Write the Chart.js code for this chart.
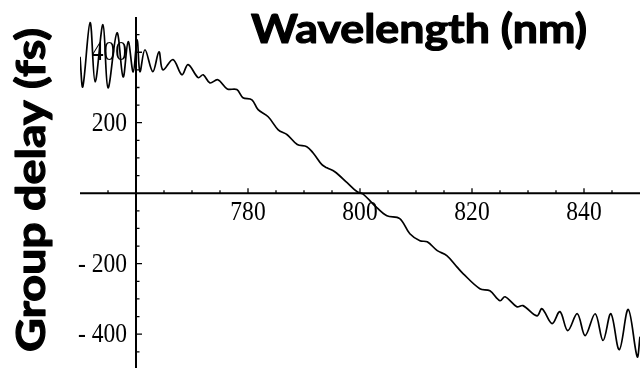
<!DOCTYPE html>
<html>
<head>
<meta charset="utf-8">
<script src="https://cdn.jsdelivr.net/npm/chart.js@4"></script>
<style>
  html, body { margin: 0; padding: 0; background: #fff; }
  #wrap { width: 640px; height: 368px; }
</style>
</head>
<body>
<div id="wrap"><canvas id="myChart"></canvas></div>
<script>
// values
const wavelength = [750.0, 750.5, 751.8, 752.7, 754.1, 755.0, 756.6, 757.7, 758.6, 759.5,
  760.2, 760.7, 761.6, 763.0, 764.1, 764.8, 766.6, 768.2, 769.3, 771.1,
  772.0, 773.2, 774.6, 776.3, 778.0, 779.1, 780.7, 781.8, 783.6, 785.4,
  787.0, 788.8, 790.5, 791.6, 793.2, 794.1, 795.5, 797.7, 799.5, 800.5,
  803.0, 804.8, 807.1, 808.9, 810.7, 812.0, 813.8, 815.5, 817.3, 818.4,
  821.4, 823.2, 825.0, 825.9, 828.0, 829.1, 831.6, 832.5, 834.3, 835.7,
  837.1, 838.8, 840.2, 842.0, 843.4, 844.8, 846.3, 847.9, 849.5, 850.0];
const groupDelay = [387, 302, 484, 316, 478, 299, 455, 330, 430, 344,
  435, 345, 407, 345, 401, 350, 379, 336, 365, 328,
  336, 313, 322, 296, 294, 271, 265, 237, 217, 180,
  166, 138, 132, 115, 81, 72, 61, 30, 4, -2,
  -41, -64, -72, -115, -135, -138, -163, -177, -209, -228,
  -271, -277, -305, -294, -322, -319, -348, -328, -370, -336,
  -390, -342, -404, -342, -418, -342, -444, -330, -464, -407];

const xTickLabels = [780, 800, 820, 840];
const yTickLabels = [-400, -200, 200, 400];
const xTitle = "Wavelength (nm)";
const yTitle = "Group delay (fs)";

// axes cross here (Mathematica style)
const axisX = 760;
const axisY = 0;

const axesPlugin = {
  id: "crossAxes",
  beforeDatasetsDraw(chart) {
    const ctx = chart.ctx;
    const xs = chart.scales.x;
    const ys = chart.scales.y;
    const area = chart.chartArea;
    const ox = xs.getPixelForValue(axisX);
    const oy = ys.getPixelForValue(axisY);

    ctx.save();
    ctx.strokeStyle = "#000";
    ctx.fillStyle = "#000";

    // axis lines
    ctx.lineWidth = 2;
    ctx.beginPath();
    ctx.moveTo(area.left, oy);
    ctx.lineTo(area.right, oy);
    ctx.moveTo(ox, area.top);
    ctx.lineTo(ox, area.bottom);
    ctx.stroke();

    // tick marks, pointing into the plot
    ctx.lineWidth = 1.3;
    ctx.beginPath();
    for (let v = 755; v < 850; v += 5) {
      if (v === axisX) continue;
      const px = xs.getPixelForValue(v);
      const len = xTickLabels.includes(v) ? 5 : 3;
      ctx.moveTo(px, oy);
      ctx.lineTo(px, oy - len);
    }
    for (let v = -450; v <= 450; v += 50) {
      if (v === axisY) continue;
      const py = ys.getPixelForValue(v);
      const len = yTickLabels.includes(v) ? 6 : 3.5;
      ctx.moveTo(ox, py);
      ctx.lineTo(ox + len, py);
    }
    ctx.stroke();

    // tick labels (narrow serif)
    ctx.font = '28px "Liberation Serif"';
    ctx.textBaseline = "middle";
    ctx.textAlign = "center";
    xTickLabels.forEach(v => {
      ctx.save();
      ctx.translate(xs.getPixelForValue(v), oy + 19);
      ctx.scale(0.84, 1);
      ctx.fillText(String(v), 0, 0);
      ctx.restore();
    });
    ctx.textAlign = "right";
    yTickLabels.forEach(v => {
      const txt = v < 0 ? "- " + Math.abs(v) : String(v);
      ctx.save();
      ctx.translate(ox - 9, ys.getPixelForValue(v) + 0.5);
      ctx.scale(0.84, 1);
      ctx.fillText(txt, 0, 0);
      ctx.restore();
    });

    // titles, a bit heavier than plain Lato bold
    ctx.font = 'bold 40px Lato';
    ctx.textAlign = "center";
    ctx.textBaseline = "alphabetic";
    ctx.lineWidth = 1.2;
    ctx.lineJoin = "round";
    let w = ctx.measureText(xTitle).width;
    ctx.save();
    ctx.translate(419, 43);
    ctx.scale(336 / w, 1);
    ctx.fillText(xTitle, 0, 0);
    ctx.strokeText(xTitle, 0, 0);
    ctx.restore();

    w = ctx.measureText(yTitle).width;
    ctx.save();
    ctx.translate(45, 190);
    ctx.rotate(-Math.PI / 2);
    ctx.scale(324 / w, 1);
    ctx.fillText(yTitle, 0, 0);
    ctx.strokeText(yTitle, 0, 0);
    ctx.restore();

    ctx.restore();
  }
};

const ctx = document.getElementById("myChart").getContext("2d");

new Chart(ctx, {
  type: "line",
  data: {
    datasets: [
      {
        label: "group delay",
        data: wavelength.map((x, i) => ({ x: x, y: groupDelay[i] })),
        borderColor: "#000",
        borderWidth: 1.7,
        pointRadius: 0,
        tension: 0.35,
        fill: false
      }
    ]
  },
  options: {
    responsive: true,
    maintainAspectRatio: false,
    animation: false,
    layout: { padding: { left: 80, top: 17, right: 0, bottom: 0 } },
    plugins: {
      legend: { display: false },
      tooltip: { enabled: false }
    },
    scales: {
      x: { type: "linear", min: 750, max: 850, display: false },
      y: { type: "linear", min: -496, max: 500, display: false }
    }
  },
  plugins: [axesPlugin]
});
</script>
</body>
</html>
